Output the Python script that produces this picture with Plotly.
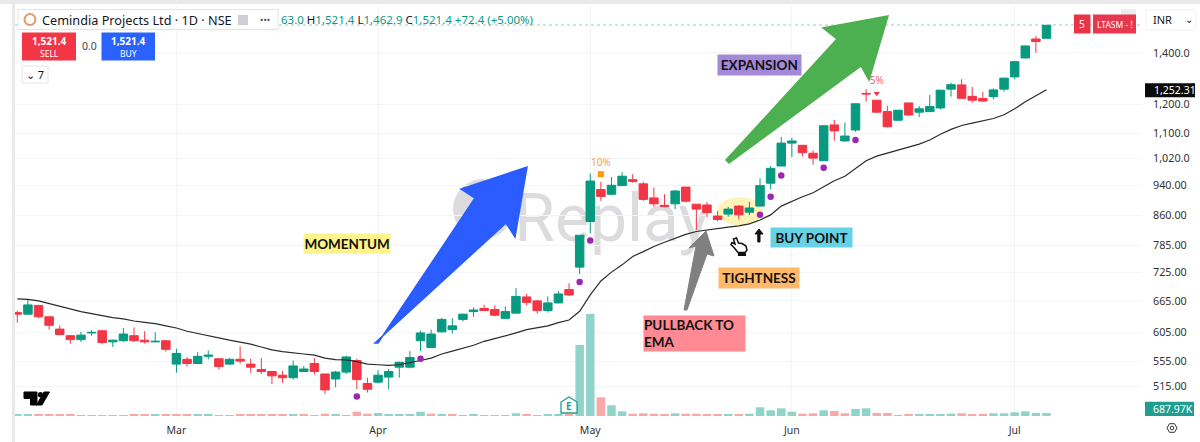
import plotly.graph_objects as go

# ---------- data ----------
opens = [642,639,656,634,611,599,592,604,608,588,590,599,591,588,590,550,558,551,563,559,
         550,558,550,541,538,532,528,538,551,534,526,537,556,519,521,529,545,545,590,578,
         606,610,629,644,650,648,631,641,673,665,646,661,688,736,844,929,916,940,957,945,
         906,886,890,936,889,887,858,863,884,868,884,947,997,1068,1061,1036,1013,1128,1075,1111,
         1240,1215,1174,1144,1205,1172,1174,1187,1256,1272,1229,1221,1228,1256,1303,1379,1460,1463]
highs = [646,669,657,634,618,600,606,609,609,592,613,614,607,605,590,576,562,570,573,559,
         560,580,559,560,538,539,556,547,560,534,539,564,559,528,540,542,554,572,608,610,
         632,631,640,652,657,656,654,691,679,667,674,685,701,810,975,951,965,979,973,951,
         935,916,928,936,889,895,871,882,886,895,961,997,1088,1085,1061,1045,1125,1145,1136,1202,
         1256,1215,1195,1179,1205,1194,1234,1252,1281,1294,1264,1246,1259,1300,1364,1430,1473,1521.4]
lows = [623,639,631,610,600,585,588,599,584,579,588,588,585,587,571,536,546,551,558,541,
        549,551,536,534,518,520,525,537,533,503,513,534,510,505,519,510,528,543,572,578,
        605,603,625,634,645,635,630,641,656,640,642,660,675,721,815,898,913,940,948,898,
        882,881,876,894,823,855,845,856,850,860,884,930,997,1024,1026,1001,1013,1076,1072,1105,
        1210,1170,1119,1142,1159,1155,1174,1181,1228,1219,1206,1209,1219,1247,1294,1378,1401,1462.9]
closes = [639,657,634,618,601,592,600,605,587,591,602,590,588,589,575,568,551,563,565,546,
          558,555,545,538,531,528,547,542,538,509,537,562,525,510,532,538,553,561,604,602,
          629,617,639,647,646,637,644,674,662,646,661,679,677,810,953,910,941,967,952,902,
          890,883,925,897,876,867,849,876,861,879,940,990,1068,1075,1038,1021,1125,1108,1091,1202,
          1238,1172,1122,1179,1162,1184,1192,1252,1273,1222,1215,1212,1253,1298,1364,1430,1449,1521.4]
ema = [669,668,665,659.6,654,648,644,640,636,632.5,630,626,623.6,621,617,613,607,603,599,594,
       591,587.6,584,579,574,571,569.5,567,565,560,557.5,557,554,550,549,548,549,552,556,560,
       567,572,577,582,589,594,598,604,610,613,617,623,628,644.5,677,706,725,741,760,771,
       783,793,802,812,819,823,825.5,830,833,838,848,861,884,897,909,920,937,954,967,990,
       1013,1027,1036,1046,1054,1065,1078,1097,1113,1126,1134,1141,1150,1163,1184,1209,1232,1254]
volume_k = [460,460,345,460,345,345,229,229,229,229,229,275,460,460,345,345,345,345,345,185,
            185,345,345,345,345,345,345,345,185,525,460,229,985,525,688,275,275,275,985,525,
            300,410,160,345,229,229,160,620,390,229,300,300,460,16260,23360,4280,2450,1075,525,620,
            525,390,620,525,525,390,390,390,390,525,1990,1305,1760,985,525,620,1305,1145,620,1600,
            1760,688,688,160,460,390,390,390,525,620,460,390,620,620,850,1075,688,688]
signal_bars = [32,38,53,54,70,71,72,76,79]
signal_prices = [499,559,704,797,861,909,969,992,1078]
month_bars = [15,34,54,73,94]
month_labels = ["Mar","Apr","May","Jun","Jul"]
price_ticks = [1400,1200,1100,1020,940,860,785,725,665,605,555,515]
price_labels = ["1,400.0","1,200.0","1,100.0","1,020.0","940.00","860.00","785.00","725.00",
                "665.00","605.00","555.00","515.00"]
bars = list(range(len(closes)))

# ---------- layout geometry (window pixels) ----------
W, H = 1200, 442
L, R, T, B = 15, 1142, 5, 416
def X(px): return (px - L) / (R - L)
def Y(py): return 1 - (py - T) / (B - T)
def poly(points):
    return "M " + " L ".join(f"{X(a):.5f},{Y(b):.5f}" for a, b in points) + " Z"

GREEN, RED = "#089981", "#f23645"
FONT = "Noto Sans"
vol_colors = ["#8fd3ca"] + ["#8fd3ca" if closes[i] >= closes[i-1] else "#f9a8a8" for i in range(1, len(closes))]

fig = go.Figure()
fig.add_trace(go.Candlestick(x=bars, open=opens, high=highs, low=lows, close=closes,
    increasing=dict(line=dict(color=GREEN, width=1), fillcolor=GREEN),
    decreasing=dict(line=dict(color=RED, width=1), fillcolor=RED),
    whiskerwidth=0, showlegend=False))
fig.add_trace(go.Bar(x=bars, y=volume_k, marker=dict(color=vol_colors, line=dict(width=0)),
    yaxis="y2", showlegend=False))
fig.add_trace(go.Scatter(x=bars, y=ema, mode="lines", line=dict(color="#2b2b2b", width=1.2), showlegend=False))
fig.add_trace(go.Scatter(x=signal_bars, y=signal_prices, mode="markers",
    marker=dict(color="#9c27b0", size=6.5), showlegend=False))
fig.add_trace(go.Scatter(x=[55], y=[973], mode="markers", marker=dict(color="#ff9800", size=6, symbol="square"), showlegend=False))
fig.add_trace(go.Scatter(x=[55], y=[1006], mode="text", text=["10%"], textfont=dict(color="#f5a33c", size=10, family=FONT), showlegend=False))
fig.add_trace(go.Scatter(x=[81], y=[1240], mode="markers", marker=dict(color=RED, size=5.5, symbol="triangle-down"), showlegend=False))
fig.add_trace(go.Scatter(x=[81], y=[1285], mode="text", text=["5%"], textfont=dict(color="#f0606f", size=10, family=FONT), showlegend=False))

shapes = []
def rect(x0, y0, x1, y1, fill, line=None, layer="above", lw=1):
    shapes.append(dict(type="rect", xref="paper", yref="paper", x0=X(x0), x1=X(x1), y0=Y(y0), y1=Y(y1),
                       fillcolor=fill, line=dict(color=line or fill, width=lw if line else 0), layer=layer))
def path(points, fill, layer="above", line=None, lw=1):
    shapes.append(dict(type="path", xref="paper", yref="paper", path=poly(points), fillcolor=fill,
                       line=dict(color=line or fill, width=lw), layer=layer))
def circle(cx, cy, rx, ry, fill, layer="above", line=None, lw=0):
    shapes.append(dict(type="circle", xref="paper", yref="paper", x0=X(cx-rx), x1=X(cx+rx), y0=Y(cy+ry), y1=Y(cy-ry),
                       fillcolor=fill, line=dict(color=line or fill, width=lw), layer=layer))

# frame strips
rect(0, 0, 1200, 4, "#e9e9ec")
rect(12, 4, 15, 442, "#e9e9ec")
# watermark + tightness ellipse under the candles
circle(483, 209, 30, 30, "#dcdcde", layer="below")
shapes.append(dict(type="rect", xref="paper", yref="paper", x0=X(517), x1=X(707), y0=Y(262), y1=Y(165),
                   fillcolor="rgba(0,0,0,0)", line=dict(width=0), layer="below",
                   label=dict(text="Replay", font=dict(family="Roboto", size=66, color="#dcdcde"),
                              textposition="middle center")))
circle(740, 211.3, 23, 14, "#fff3b8", layer="below")
# last price line
shapes.append(dict(type="line", xref="paper", yref="paper", x0=0, x1=1, y0=Y(25), y1=Y(25),
                   line=dict(color="#8fd3ca", width=1, dash="dot"), layer="below"))
# arrows
path([(375,343),(378,343),(475,198),(461,189),(527,167),(515,237),(506,223)], "#2a5cff", line="#2a5cff", lw=1.5)
path([(726,160),(729,163),(861,66),(869,80),(888,16),(823,28),(837,39)], "#4caf50", line="#4caf50", lw=1.5)
path([(684,310),(687,310),(707,254),(714,256),(706,231),(689,248),(696,246)], "#808080", line="#808080", lw=1)
path([(757.8,242),(760,242),(760,234),(763,234),(759,229),(755,234),(757.8,234)], "#111111")
# hand pointer
path([(733.5,239),(736.5,238),(738.5,243),(742,243.5),(746,246),(747,250),(745,252.5),(738,252.5),(734,247.5),(731,244.5),(732,242.5),(735,244)],
     "#ffffff", line="#111111", lw=1.5)
rect(738, 252.5, 746, 256, "#111111")
# header controls
rect(18, 9.5, 278, 29.5, "#ffffff", "#e4e4e7")
circle(30, 19.5, 5.5, 5.5, "#ffffff", line="#e39a6a", lw=2)
rect(238, 15, 248, 25, "#cfcfd3")
rect(22, 32.5, 76, 60.5, RED)
rect(101.5, 32.5, 155, 60.5, "#2962ff")
rect(22, 66, 48, 83, "#ffffff", "#e4e4e7")
rect(1121, 9, 1136, 15, "#ececee")
rect(1074, 14.5, 1090.5, 33.5, "#ea3347")
rect(1093, 14.5, 1136, 33.5, "#e63950")
rect(1146, 10, 1196, 30, "#ffffff", "#f2f2f4")
rect(1145, 83.3, 1195, 97.3, "#0a0a0a")
rect(1145, 401.7, 1194, 416, "#1f9e8f")
# earnings badge
path([(561,413),(561,402),(569,397),(577,402),(577,413)], "#ffffff", line="#1f9e8f", lw=1.3)
# TV logo
path([(24,392),(37,392),(37,405),(30.5,405),(30.5,398.5),(24,398.5)], "#000000")
circle(40.5, 394.7, 2.6, 2.6, "#000000")
path([(44,392),(49.5,392),(42,405),(36.5,405)], "#000000")
# settings icon
path([(1167,428),(1169.5,423.7),(1174.5,423.7),(1177,428),(1174.5,432.3),(1169.5,432.3)], "#ffffff", line="#333333", lw=1)
circle(1172, 428, 1.8, 1.8, "#ffffff", line="#333333", lw=1)

ann = []
def text(px, py, s, size=11, color="#131722", family=FONT, weight=400, xa="left", ya="middle", **kw):
    ann.append(dict(xref="paper", yref="paper", x=X(px), y=Y(py), text=s, showarrow=False, xanchor=xa, yanchor=ya,
                    font=dict(size=size, color=color, family=family, weight=weight), **kw))
def label(x0, y0, x1, y1, s, fill, size=13.5, align="center"):
    ann.append(dict(xref="paper", yref="paper", x=X(x0), y=Y(y0), xanchor="left", yanchor="top", text=s, showarrow=False,
                    width=x1-x0, height=y1-y0, bgcolor=fill, align=align, borderpad=0, valign="middle",
                    font=dict(size=size, color="#111111", family="Lato", weight=700)))

text(40, 19.5, "Cemindia Projects Ltd · 1D · NSE", size=12.7)
text(265, 19.5, "•••", size=9, color="#444444", xa="center")
g = GREEN
text(279, 19.5, f"<span style='color:{g}'>63.0</span> H<span style='color:{g}'>1,521.4</span> "
     f"L<span style='color:{g}'>1,462.9</span> C<span style='color:{g}'>1,521.4</span> "
     f"<span style='color:{g}'>+72.4 (+5.00%)</span>", size=11.5)
text(49, 40.5, "1,521.4", size=10, color="#ffffff", weight=700, xa="center")
text(49, 53.5, "SELL", size=8.5, color="#ffffff", xa="center")
text(128, 40.5, "1,521.4", size=10, color="#ffffff", weight=700, xa="center")
text(128, 53.5, "BUY", size=8.5, color="#ffffff", xa="center")
text(89, 46, "0.0", size=10.5, color="#444444", xa="center")
text(35, 74.5, "⌄ 7", size=11, xa="center")
text(1082, 24, "5", size=10, color="#ffffff", xa="center")
text(1114.5, 24, "LTASM - !", size=8.5, color="#ffffff", xa="center")
text(1151, 20, "INR", size=11)
text(1189, 19, "⌄", size=10, xa="center")
text(1152, 90.3, "1,252.31", size=10.5, color="#ffffff")
text(1151, 409, "687.97K", size=10.5, color="#ffffff")
text(569, 405.5, "E", size=10, color="#1f9e8f", xa="center", weight=700)
label(302.7, 233.3, 389, 252.7, "MOMENTUM", "#fff38a")
label(717.3, 54.3, 800, 74, "EXPANSION", "#a489d8")
label(770, 227.3, 851, 246.7, "BUY POINT", "#66d2e6")
label(718, 267, 798, 287, "TIGHTNESS", "#ffb968")
label(643, 314.7, 743.7, 350, "PULLBACK TO<br>EMA", "#ff8a94", align="left")

fig.update_layout(
    width=W, height=H, margin=dict(l=L, r=W-R, t=T, b=H-B), autosize=False,
    paper_bgcolor="#ffffff", plot_bgcolor="#ffffff", showlegend=False, boxgap=0.2, boxgroupgap=0, bargap=0.2,
    shapes=shapes, annotations=ann, dragmode=False, hovermode=False,
    font=dict(family=FONT, size=11, color="#333333"),
    xaxis=dict(range=[-0.217, 106.0], rangeslider=dict(visible=False), tickmode="array", tickvals=month_bars,
               ticktext=month_labels, showgrid=True, gridcolor="#f3f4f6", gridwidth=1, zeroline=False,
               showline=False, ticks="", tickfont=dict(size=10.5, color="#333333"), ticklabelstandoff=6),
    yaxis=dict(type="log", range=[2.67271, 3.2087], side="right", tickmode="array", tickvals=price_ticks,
               ticktext=price_labels, showgrid=True, gridcolor="#f3f4f6", gridwidth=1, zeroline=False,
               showline=False, ticks="", tickfont=dict(size=10.8, color="#333333"), ticklabelstandoff=10),
    yaxis2=dict(overlaying="y", range=[0, 94119], visible=False),
)
fig.write_html("out.html", config=dict(displayModeBar=False),
               post_script="document.body.style.margin='0';document.documentElement.style.overflow='hidden';")
